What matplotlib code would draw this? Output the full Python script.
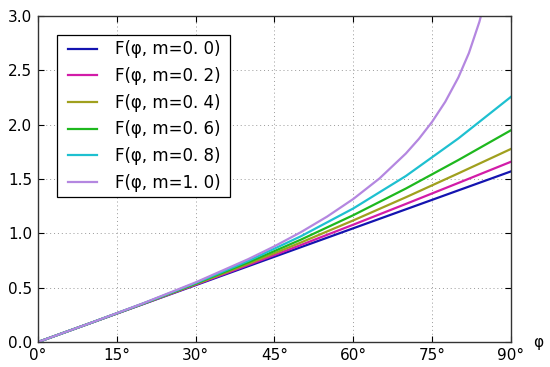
import numpy as np
import matplotlib
matplotlib.use("Agg")
import matplotlib.pyplot as plt
from matplotlib.patches import Rectangle

# sample angles (degrees)
phi_deg = [0, 10, 20, 30, 40, 50, 60, 70, 80, 90]
F_m00 = [0.0, 0.1745, 0.3491, 0.5236, 0.6981, 0.8727, 1.0472, 1.2217, 1.3963, 1.5708]
F_m02 = [0.0, 0.1747, 0.3505, 0.5282, 0.7088, 0.8928, 1.0804, 1.2713, 1.4647, 1.6596]
F_m04 = [0.0, 0.1749, 0.3519, 0.5331, 0.7205, 0.9156, 1.1197, 1.3326, 1.5529, 1.7775]
F_m06 = [0.0, 0.1751, 0.3534, 0.5382, 0.7332, 0.9419, 1.1678, 1.4129, 1.6757, 1.9496]
F_m08 = [0.0, 0.1752, 0.3549, 0.5436, 0.7472, 0.9729, 1.2298, 1.5282, 1.8744, 2.2572]
phi_deg_m10 = [0, 10, 20, 30, 40, 45, 50, 55, 60, 65, 70, 72.5, 75, 77.5, 80, 82, 84, 85]
F_m10 = [0.0, 0.1754, 0.3564, 0.5493, 0.7629, 0.8814, 1.0107, 1.1542, 1.3170, 1.5065,
         1.7354, 1.8714, 2.0276, 2.2117, 2.4363, 2.6603, 2.9487, 3.1313]

labels = ["m=0. 0", "m=0. 2", "m=0. 4", "m=0. 6", "m=0. 8", "m=1. 0"]
colors = ["#1414b0", "#d21ca8", "#a0a01e", "#1eb81e", "#1ec0d0", "#b487e0"]

xticks = [0, 15, 30, 45, 60, 75, 90]
xticklabels = ["0°", "15°", "30°", "45°", "60°", "75°", "90°"]
yticks = [0.0, 0.5, 1.0, 1.5, 2.0, 2.5, 3.0]

plt.rcParams["font.family"] = ["DejaVu Sans"]
W, H = 550, 367
fig = plt.figure(figsize=(W / 100, H / 100), dpi=100, facecolor="white")
ax = fig.add_axes([0.069, 0.068, 0.86, 0.888])

series = [(phi_deg, F_m00), (phi_deg, F_m02), (phi_deg, F_m04),
          (phi_deg, F_m06), (phi_deg, F_m08), (phi_deg_m10, F_m10)]
for (xd, yd), lab, c in zip(series, labels, colors):
    ax.plot(np.radians(xd), yd, color=c, lw=1.6, label="F(φ, " + lab + ")")

ax.set_xlim(0, np.pi / 2)
ax.set_ylim(0, 3.0)
ax.set_xticks(np.radians(xticks))
ax.set_xticklabels(xticklabels)
ax.set_yticks(yticks)
ax.set_yticklabels([f"{v:.1f}" for v in yticks])
ax.tick_params(direction="in", top=True, right=True, labelsize=11, length=4, width=0.8, pad=4)
ax.grid(True, linestyle=(0, (1, 3)), color="#999999", linewidth=0.7)
for s in ax.spines.values():
    s.set_linewidth(1.0)
    s.set_color("#333333")

ax.set_xlabel("φ", fontsize=11, va="center")
ax.xaxis.set_label_coords(1.057, 0.0)

ax_w_px = 0.86 * W
leg = ax.legend(loc="upper left", bbox_to_anchor=(0.040 + 6 / ax_w_px, 0.942), borderaxespad=0,
                fontsize=12, fancybox=False, frameon=False, handlelength=1.7,
                labelspacing=0.52, borderpad=0.32, handletextpad=1.1)
leg.set_zorder(5)

# legend frame with wider horizontal padding
fig.canvas.draw()
bb = leg.get_window_extent()
frame = Rectangle(((bb.x0 - 6) / W, bb.y0 / H), (bb.width + 10) / W, bb.height / H,
                  transform=fig.transFigure, facecolor="white", edgecolor="black",
                  linewidth=0.9, zorder=4.9, clip_on=False)
ax.add_artist(frame)

fig.savefig("out.png", dpi=100, facecolor="white")
